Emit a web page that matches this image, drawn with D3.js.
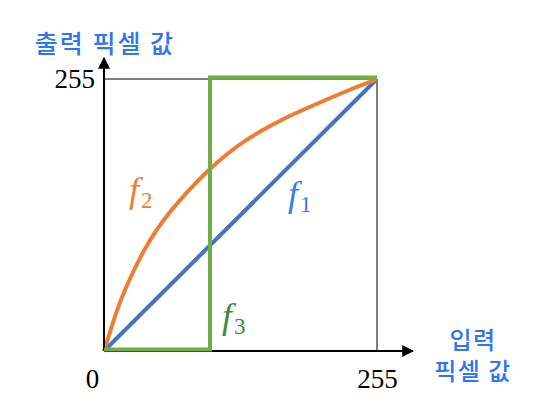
<!DOCTYPE html>
<html><head><meta charset="utf-8">
<script src="https://cdn.jsdelivr.net/npm/d3@7"></script>
<style>body{margin:0;background:#fff}</style>
</head><body>
<svg id="c" width="542" height="414"></svg>
<script>
const xTicks = [0, 255];
const yTicks = [255];
const f1x = [0, 255], f1y = [0, 255];
const f2x = [0, 7, 15, 26, 37, 48, 60, 83, 99, 115, 130, 146, 164, 188, 211, 233, 255];
const f2y = [0, 22.5, 47, 72, 94, 112, 129, 155, 171, 185, 196, 206, 216, 227, 237, 246.5, 255];
const f3x = [0, 99, 99, 255];
const f3y = [0, 0, 255, 255];
const yTitle = "출력 픽셀 값";
const xTitle = ["입력", "픽셀 값"];

const svg = d3.select("#c");
const x = d3.scaleLinear().domain([0, 255]).range([104, 377]);
const y = d3.scaleLinear().domain([0, 255]).range([351, 79]);

// box lines
svg.append("line").attr("x1", x(0)).attr("x2", x(255)).attr("y1", y(255)).attr("y2", y(255))
  .attr("stroke", "#000").attr("stroke-width", 1.2);
svg.append("line").attr("x1", x(255)).attr("x2", x(255)).attr("y1", y(0)).attr("y2", y(255))
  .attr("stroke", "#555").attr("stroke-width", 1.5);

const blue = "#4472C4", orange = "#ED7D31", green = "#70AD47";
const straight = d3.line().x(d => x(d[0])).y(d => y(d[1]));
const smooth = d3.line().x(d => x(d[0])).y(d => y(d[1])).curve(d3.curveBasis);

svg.append("path").datum(f1x.map((v, i) => [v, f1y[i]])).attr("d", straight)
  .attr("fill", "none").attr("stroke", blue).attr("stroke-width", 4);
svg.append("path").datum(f2x.map((v, i) => [v, f2y[i]])).attr("d", smooth)
  .attr("fill", "none").attr("stroke", orange).attr("stroke-width", 4);

// arrows
const defs = svg.append("defs");
defs.append("marker").attr("id", "arr").attr("viewBox", "0 0 10 10").attr("refX", 9).attr("refY", 5)
  .attr("markerWidth", 6).attr("markerHeight", 6).attr("markerUnits", "strokeWidth").attr("orient", "auto")
  .append("path").attr("d", "M0,0L10,5L0,10z").attr("fill", "#000");
svg.append("line").attr("x1", x(0)).attr("x2", 413).attr("y1", y(0)).attr("y2", y(0))
  .attr("stroke", "#000").attr("stroke-width", 2).attr("marker-end", "url(#arr)");
svg.append("line").attr("x1", x(0)).attr("x2", x(0)).attr("y1", y(0)).attr("y2", 58)
  .attr("stroke", "#000").attr("stroke-width", 2).attr("marker-end", "url(#arr)");

svg.append("path").datum(f3x.map((v, i) => [v, f3y[i]])).attr("d", straight)
  .attr("transform", "translate(0,-1.5)")
  .attr("fill", "none").attr("stroke", green).attr("stroke-width", 4);

// axes tick labels
const xa = svg.append("g").attr("transform", `translate(0,${y(0)})`)
  .call(d3.axisBottom(x).tickValues(xTicks).tickSize(0).tickPadding(18).tickFormat(d3.format("d")));
xa.select(".domain").remove();
xa.selectAll("text").attr("font-family", "Liberation Serif, Times New Roman, serif").attr("font-size", 27).attr("fill", "#000")
  .attr("dx", d => d === 0 ? -12 : 0);
const ya = svg.append("g").attr("transform", `translate(${x(0)},0)`)
  .call(d3.axisLeft(y).tickValues(yTicks).tickSize(0).tickPadding(9).tickFormat(d3.format("d")));
ya.select(".domain").remove();
ya.selectAll("text").attr("font-family", "Liberation Serif, Times New Roman, serif").attr("font-size", 27).attr("fill", "#000");

// titles
const kfont = "Noto Sans CJK KR, Noto Sans, sans-serif";
const tblue = "#2F74F0";
svg.append("text").attr("x", 105).attr("y", 53).attr("text-anchor", "middle")
  .attr("font-family", kfont).attr("font-size", 25).attr("font-weight", 500).attr("letter-spacing", 2)
  .attr("fill", tblue).text(yTitle);
const xt = svg.append("text").attr("text-anchor", "middle")
  .attr("font-family", kfont).attr("font-size", 24).attr("font-weight", 500).attr("letter-spacing", 1.5)
  .attr("fill", tblue);
xTitle.forEach((t, i) => {
  xt.append("tspan").attr("x", 473).attr("y", 349 + i * 31).text(t);
});

// function labels
function flab(px, py, sub, col) {
  const t = svg.append("text").attr("x", px).attr("y", py).attr("fill", col)
    .attr("font-family", "Liberation Serif, Times New Roman, serif");
  t.append("tspan").attr("font-style", "italic").attr("font-size", 36).text("f");
  t.append("tspan").attr("font-size", 23).attr("dx", 2).attr("dy", 6).text(sub);
}
flab(288, 206, "1", "#3A7BE8");
flab(129, 202, "2", "#ED7D31");
flab(222, 328, "3", "#3A8C3A");
</script>
</body></html>
